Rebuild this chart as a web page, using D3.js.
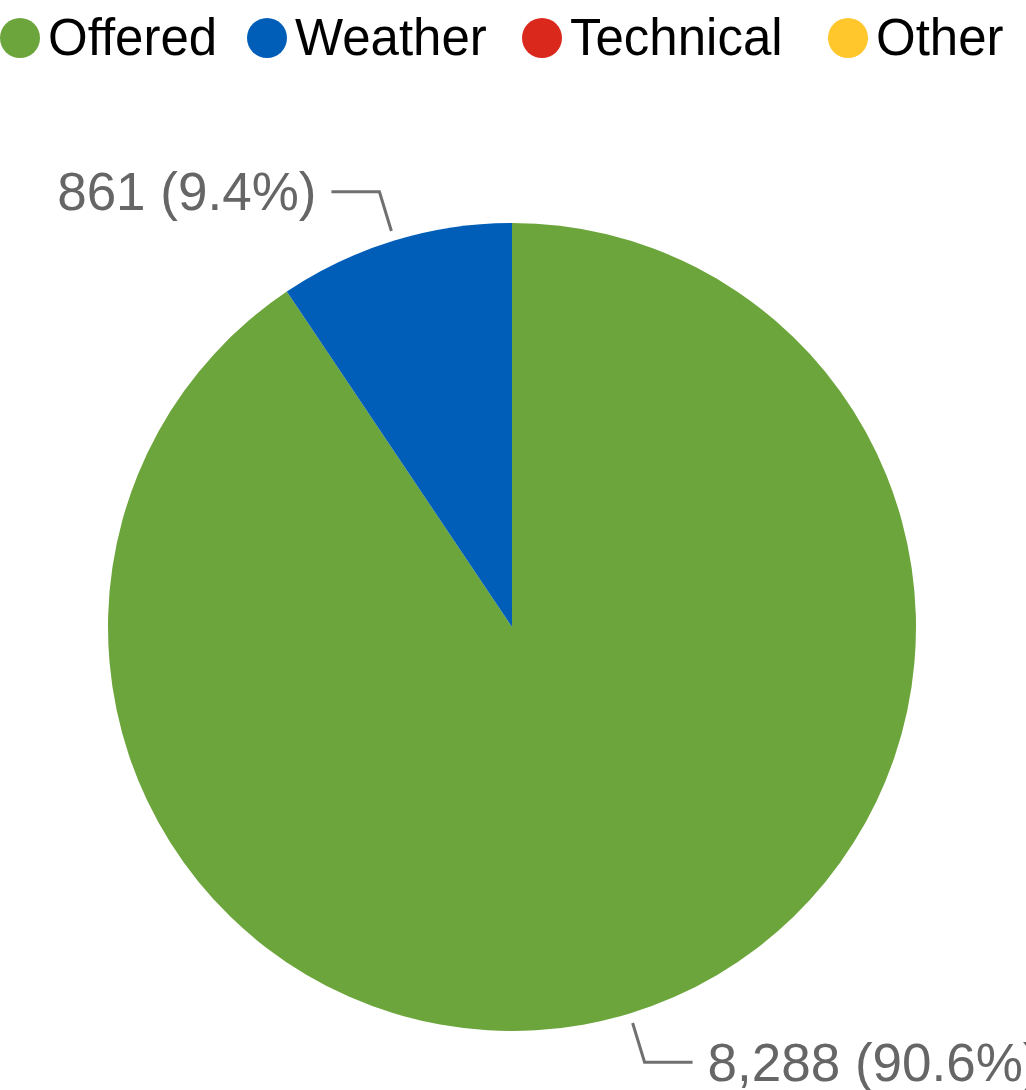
<!DOCTYPE html>
<html>
<head>
<meta charset="utf-8">
<script src="https://cdn.jsdelivr.net/npm/d3@7/dist/d3.min.js"></script>
<style>
 html, body { margin: 0; padding: 0; background: #fff; }
 svg { display: block; font-family: "Liberation Sans", Arial, sans-serif; }
</style>
</head>
<body>
<script>
// chart data
var categories = ['Offered', 'Weather', 'Technical', 'Other']
var values     = [8288, 861, 0, 0]
var colors     = ['#6ca53b', '#005eb8', '#da291c', '#ffc72c']

var W = 1026, H = 1090
var cx = 512, cy = 627, R = 404
var legendFont = 51, labelFont = 53
var legendX = [0, 247, 522, 828]   // left edge of each legend item

var svg = d3.select('body').append('svg')
  .attr('width', W)
  .attr('height', H)

// legend
var legend = svg.append('g').attr('class', 'legend')
categories.forEach(function(c, i) {
  legend.append('circle')
    .attr('cx', legendX[i] + 20).attr('cy', 38).attr('r', 20)
    .attr('fill', colors[i])
  legend.append('text')
    .attr('x', legendX[i] + 48).attr('y', 55)
    .attr('font-size', legendFont)
    .attr('fill', '#000')
    .text(c)
})

// pie
var total = d3.sum(values)
var pie = d3.pie().sort(null).value(function(d) { return d.value })
var arcs = pie(categories.map(function(c, i) { return {name: c, value: values[i], color: colors[i]} }))
  .filter(function(a) { return a.data.value > 0 })

var arc = d3.arc().innerRadius(0).outerRadius(R)
var g = svg.append('g').attr('transform', 'translate(' + cx + ',' + cy + ')')

g.selectAll('.slice').data(arcs).enter().append('path')
  .attr('class', 'slice')
  .attr('d', arc)
  .attr('fill', function(d) { return d.data.color })

// labels with elbow lines
var fmt = d3.format(',')
var pct = d3.format('.1f')
arcs.forEach(function(a) {
  var mid = (a.startAngle + a.endAngle) / 2
  var sx = Math.sin(mid), sy = -Math.cos(mid)
  var p1 = [sx * (R + 10), sy * (R + 10)]
  var p2 = [sx * (R + 51), sy * (R + 51)]
  var side = sx < 0 ? -1 : 1
  var p3 = [p2[0] + side * 48, p2[1]]
  g.append('polyline')
    .attr('points', [p1, p2, p3].map(function(p) { return p.join(',') }).join(' '))
    .attr('fill', 'none')
    .attr('stroke', '#707070')
    .attr('stroke-width', 3)
  g.append('text')
    .attr('x', p3[0] + side * 15)
    .attr('y', p3[1])
    .attr('dy', '0.35em')
    .attr('text-anchor', side < 0 ? 'end' : 'start')
    .attr('font-size', labelFont)
    .attr('fill', '#666')
    .text(fmt(a.data.value) + ' (' + pct(a.data.value / total * 100) + '%)')
})
</script>
</body>
</html>
